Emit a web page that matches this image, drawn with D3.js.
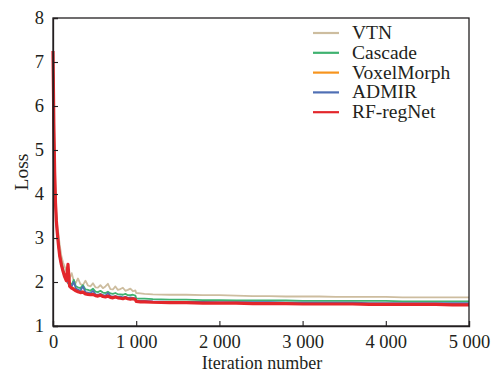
<!DOCTYPE html>
<html>
<head>
<meta charset="utf-8">
<script src="https://cdn.jsdelivr.net/npm/d3@7"></script>
<style>
  html, body { margin: 0; padding: 0; background: #fff; }
  svg { display: block; }
  svg text { font-family: "Liberation Serif", "Times New Roman", Times, serif; fill: #231f20; }
</style>
</head>
<body>
<div id="chart"></div>
<script>
// iteration grid (shared by all series)
const iterations = [
  0, 10, 20, 30, 40, 50, 65, 80, 100, 120,
  140, 160, 180, 200, 225, 250, 275, 300, 330, 360,
  390, 420, 450, 480, 510, 540, 570, 600, 630, 660,
  690, 720, 750, 780, 810, 840, 870, 900, 930, 960,
  990, 1000, 1050, 1100, 1200, 1400, 1600, 1800, 2000, 2200,
  2400, 2600, 2800, 3000, 3200, 3400, 3600, 3800, 4000, 4200,
  4400, 4600, 4800, 5000
];

const vtnLoss = [
  7.2, 5.8, 4.8, 4.1, 3.6, 3.3, 3.1, 2.85, 2.6, 2.45,
  2.35, 2.25, 2.15, 2.08, 2.2, 2.02, 1.98, 2.08, 1.95, 1.93,
  2.03, 1.92, 1.9, 1.97, 1.88, 1.87, 1.93, 1.86, 1.9, 1.96,
  1.84, 1.83, 1.9, 1.82, 1.84, 1.87, 1.8, 1.82, 1.85, 1.79,
  1.81, 1.75, 1.74, 1.73, 1.72, 1.71, 1.71, 1.7, 1.7, 1.69,
  1.68, 1.68, 1.67, 1.67, 1.67, 1.66, 1.66, 1.66, 1.66, 1.65,
  1.65, 1.65, 1.65, 1.65
];

const cascadeLoss = [
  7.0, 5.6, 4.6, 3.9, 3.5, 3.2, 2.9, 2.65, 2.45, 2.3,
  2.18, 2.08, 2.02, 1.98, 1.94, 2.05, 1.9, 1.88, 1.86, 1.93,
  1.83, 1.82, 1.8, 1.85, 1.78, 1.77, 1.8, 1.76, 1.75, 1.78,
  1.74, 1.73, 1.75, 1.72, 1.72, 1.71, 1.73, 1.7, 1.7, 1.71,
  1.69, 1.63, 1.62, 1.62, 1.61, 1.6, 1.6, 1.59, 1.59, 1.58,
  1.58, 1.58, 1.58, 1.57, 1.57, 1.57, 1.57, 1.57, 1.57, 1.56,
  1.56, 1.56, 1.56, 1.56
];

const voxelMorphLoss = [
  7.1, 5.5, 4.45, 3.8, 3.4, 3.12, 2.84, 2.6, 2.4, 2.26,
  2.13, 2.04, 1.97, 1.92, 1.88, 1.86, 1.84, 1.8, 1.79, 1.78,
  1.76, 1.74, 1.73, 1.72, 1.71, 1.7, 1.72, 1.69, 1.68, 1.68,
  1.67, 1.66, 1.66, 1.65, 1.65, 1.64, 1.63, 1.63, 1.62, 1.62,
  1.62, 1.57, 1.56, 1.55, 1.54, 1.53, 1.53, 1.52, 1.52, 1.52,
  1.52, 1.51, 1.51, 1.51, 1.51, 1.51, 1.5, 1.5, 1.5, 1.5,
  1.5, 1.5, 1.5, 1.5
];

const admirLoss = [
  7.0, 5.4, 4.4, 3.75, 3.35, 3.1, 2.82, 2.58, 2.38, 2.24,
  2.12, 2.05, 1.98, 1.93, 1.9, 2.0, 1.85, 1.83, 1.8, 1.9,
  1.77, 1.76, 1.74, 1.8, 1.72, 1.71, 1.73, 1.7, 1.69, 1.75,
  1.68, 1.67, 1.68, 1.66, 1.67, 1.65, 1.66, 1.64, 1.65, 1.64,
  1.63, 1.58, 1.57, 1.57, 1.56, 1.55, 1.55, 1.55, 1.54, 1.54,
  1.54, 1.54, 1.53, 1.53, 1.53, 1.53, 1.53, 1.52, 1.52, 1.52,
  1.52, 1.52, 1.52, 1.52
];

const rfRegNetLoss = [
  7.25, 5.6, 4.5, 3.8, 3.4, 3.15, 2.85, 2.6, 2.4, 2.25,
  2.12, 2.03, 2.4, 1.9, 1.86, 1.83, 1.8, 1.78, 1.76, 1.77,
  1.73, 1.72, 1.71, 1.72, 1.69, 1.68, 1.7, 1.67, 1.66, 1.68,
  1.65, 1.64, 1.66, 1.64, 1.63, 1.62, 1.64, 1.62, 1.61, 1.62,
  1.6, 1.56, 1.55, 1.55, 1.54, 1.53, 1.53, 1.52, 1.52, 1.52,
  1.51, 1.51, 1.51, 1.5, 1.5, 1.5, 1.5, 1.49, 1.49, 1.49,
  1.49, 1.49, 1.48, 1.48
];

const seriesNames = ["VTN", "Cascade", "VoxelMorph", "ADMIR", "RF-regNet"];
const seriesValues = [vtnLoss, cascadeLoss, voxelMorphLoss, admirLoss, rfRegNetLoss];
const seriesColors = ["#cdbd9f", "#3fb270", "#f7941d", "#4f6fb4", "#e3262b"];
const seriesWidths = [1.8, 1.8, 1.8, 1.8, 3.2];

const xTicks = [0, 1000, 2000, 3000, 4000, 5000];
const yTicks = [1, 2, 3, 4, 5, 6, 7, 8];

const width = 497, height = 373;
const margin = {top: 18, right: 28, bottom: 47, left: 53};
const serif = "'Liberation Serif', 'Times New Roman', Times, serif";

const svg = d3.select("#chart").append("svg")
  .attr("width", width)
  .attr("height", height);

const x = d3.scaleLinear().domain([0, 5000]).range([margin.left, width - margin.right]);
const y = d3.scaleLinear().domain([1, 8]).range([height - margin.bottom, margin.top]);

// "1 000" style thousands
const fmt = d => d === 0 ? "0" : d3.format(",")(d).replace(",", " ");

// curves
const line = d3.line()
  .x(d => x(d[0]))
  .y(d => y(d[1]));

const curves = svg.append("g");
seriesValues.forEach((vals, i) => {
  curves.append("path")
    .datum(vals.map((v, j) => [iterations[j], v]))
    .attr("fill", "none")
    .attr("stroke", seriesColors[i])
    .attr("stroke-width", seriesWidths[i])
    .attr("stroke-linejoin", "round")
    .attr("d", line);
});

// frame
svg.append("rect")
  .attr("x", margin.left)
  .attr("y", margin.top)
  .attr("width", width - margin.left - margin.right)
  .attr("height", height - margin.top - margin.bottom)
  .attr("fill", "none")
  .attr("stroke", "#231f20")
  .attr("stroke-width", 1.3);

// axes, ticks inside
const xAxis = svg.append("g")
  .attr("transform", `translate(0,${height - margin.bottom})`)
  .call(d3.axisBottom(x).tickValues(xTicks).tickSize(-5).tickPadding(9).tickFormat(fmt));
const yAxis = svg.append("g")
  .attr("transform", `translate(${margin.left},0)`)
  .call(d3.axisLeft(y).tickValues(yTicks).tickSize(-5).tickPadding(9).tickFormat(d3.format("d")));

[xAxis, yAxis].forEach(a => {
  a.attr("font-family", serif);
  a.select(".domain").attr("stroke", "#231f20").attr("stroke-width", 1.3);
  a.selectAll(".tick line").attr("stroke", "#231f20").attr("stroke-width", 1.1);
  a.selectAll(".tick text")
    .style("font-family", serif)
    .style("font-size", "18.5px")
    .attr("fill", "#231f20");
});
yAxis.selectAll(".tick").filter(d => d === 8).select("line").remove();

// axis titles
svg.append("text")
  .attr("x", 262)
  .attr("y", 368.5)
  .attr("text-anchor", "middle")
  .style("font-family", serif)
  .style("font-size", "18px")
  .text("Iteration number");

svg.append("text")
  .attr("transform", "translate(28,172) rotate(-90)")
  .attr("text-anchor", "middle")
  .style("font-family", serif)
  .style("font-size", "19.5px")
  .text("Loss");

// legend
const legend = svg.append("g");
seriesNames.forEach((name, i) => {
  const ly = 33 + i * 19.8;
  legend.append("line")
    .attr("x1", 313).attr("x2", 339)
    .attr("y1", ly).attr("y2", ly)
    .attr("stroke", seriesColors[i])
    .attr("stroke-width", 2.2);
  legend.append("text")
    .attr("x", 352)
    .attr("y", ly + 6)
    .style("font-family", serif)
    .style("font-size", "19.5px")
    .text(name);
});
</script>
</body>
</html>
